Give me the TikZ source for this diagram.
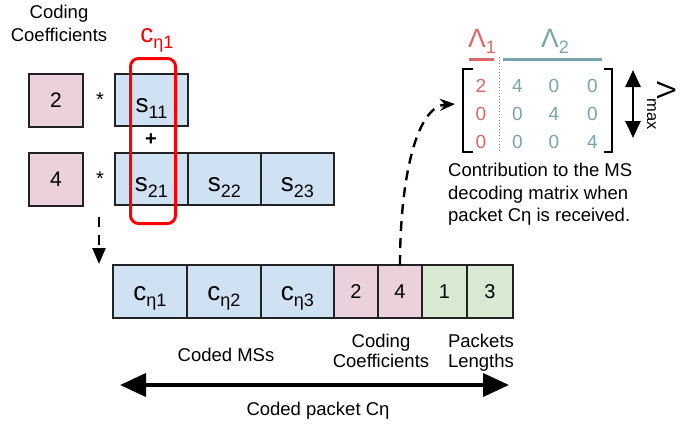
\documentclass[tikz,border=0pt]{standalone}
\usepackage{fontspec}
\setmainfont{Liberation Sans}
\usetikzlibrary{arrows.meta,calc}
\definecolor{pinkf}{HTML}{EAD1DC}
\definecolor{bluef}{HTML}{CFE2F3}
\definecolor{greenf}{HTML}{D9EAD3}
\definecolor{mred}{HTML}{E06666}
\definecolor{mteal}{HTML}{76A5AF}
\definecolor{edgec}{HTML}{222222}
\definecolor{brightred}{HTML}{FF0000}
\newcommand{\mysub}[2]{{\fontsize{26}{26}\selectfont #1}\raisebox{-6pt}{\fontsize{18}{18}\selectfont #2}}
\begin{document}
\begin{tikzpicture}[x=1pt,y=-1pt,
  cell/.style={draw=edgec, line width=1.2pt, inner sep=0pt, outer sep=0pt, anchor=north west},
  coef/.style={cell, fill=pinkf, font=\fontsize{21}{21}\selectfont},
  msg/.style={cell, fill=bluef, text height=26pt, text depth=2pt},
  cmsg/.style={cell, fill=bluef, text height=23pt, text depth=6pt},
  coefb/.style={cell, fill=pinkf, font=\fontsize{20}{20}\selectfont},
  lenb/.style={cell, fill=greenf, font=\fontsize{20}{20}\selectfont},
  lbl/.style={font=\fontsize{18.5}{22}\selectfont, align=center, inner sep=0pt},
  ment/.style={font=\fontsize{19}{19}\selectfont, anchor=base, inner sep=0pt},
  dasharrow/.style={line width=2.6pt, dash pattern=on 10pt off 8pt},
]
\useasboundingbox (0,0) rectangle (683,424);

% top-left label
\node[lbl, anchor=north, font=\fontsize{18.5}{23}\selectfont] (cctop) at (59,5) {Coding\\Coefficients};

% coding coefficient squares
\node[coef, minimum width=54pt, minimum height=53pt] (k1) at (29,74) {2};
\node[coef, minimum width=54pt, minimum height=53pt] (k2) at (29,153) {4};
\node[font=\fontsize{20}{20}\selectfont] (star1) at (100,100) {*};
\node[font=\fontsize{20}{20}\selectfont] (star2) at (100,179) {*};

% source message cells
\node[msg, minimum width=73pt, minimum height=52pt] (s11) at (115,74) {\mysub{s}{11}};
\node[msg, minimum width=73pt, minimum height=52pt] (s21) at (115,153) {\mysub{s}{21}};
\node[msg, minimum width=73pt, minimum height=52pt] (s22) at (188,153) {\mysub{s}{22}};
\node[msg, minimum width=73pt, minimum height=52pt] (s23) at (261,153) {\mysub{s}{23}};
\node[font=\bfseries\fontsize{20}{20}\selectfont] (plus) at (151,140) {+};

% red group
\node[draw=brightred, line width=3pt, rounded corners=8pt, minimum width=45pt, minimum height=165pt, anchor=north west, inner sep=0pt] (grp) at (129,57) {};
\node[anchor=base, text=brightred, inner sep=0pt] (grplbl) at (157,42) {\mysub{c}{η1}};

% coded packet row
\node[cmsg, minimum width=74pt, minimum height=53pt] (c1) at (113,265) {\mysub{c}{η1}};
\node[cmsg, minimum width=74pt, minimum height=53pt] (c2) at (187,265) {\mysub{c}{η2}};
\node[cmsg, minimum width=73pt, minimum height=53pt] (c3) at (261,265) {\mysub{c}{η3}};
\node[coefb, minimum width=44pt, minimum height=53pt] (p2) at (334,265) {2};
\node[coefb, minimum width=44pt, minimum height=53pt] (p4) at (378,265) {4};
\node[lenb, minimum width=45pt, minimum height=53pt] (g1) at (422,265) {1};
\node[lenb, minimum width=46pt, minimum height=53pt] (g3) at (467,265) {3};

% down arrow
\coordinate (dA) at (99,217);
\coordinate (dB) at (99,264);
\draw[dasharrow, -{Triangle[length=16pt,width=13pt]}] (dA) -- (dB);

% labels under row
\node[lbl, anchor=base] (cms) at (226,361) {Coded MSs};
\node[lbl, anchor=north, font=\fontsize{18.5}{20}\selectfont] (ccb) at (381,334) {Coding\\Coefficients};
\node[lbl, anchor=north, font=\fontsize{18.5}{20}\selectfont] (plb) at (481,334) {Packets\\Lengths};

% double arrow
\coordinate (hL) at (120,385);
\coordinate (hR) at (509,385);
\draw[line width=4pt, {Triangle[length=26pt,width=23pt]}-{Triangle[length=26pt,width=23pt]}] (hL) -- (hR);
\node[lbl, anchor=base] (cpk) at (318,415) {Coded packet Cη};

% matrix
\node[ment, text=mred] (m11) at (481,92) {2};
\node[ment, text=mteal] (m12) at (517.5,92) {4};
\node[ment, text=mteal] (m13) at (554,92) {0};
\node[ment, text=mteal] (m14) at (592.5,92) {0};
\node[ment, text=mred] (m21) at (481,120) {0};
\node[ment, text=mteal] (m22) at (517.5,120) {0};
\node[ment, text=mteal] (m23) at (554,120) {4};
\node[ment, text=mteal] (m24) at (592.5,120) {0};
\node[ment, text=mred] (m31) at (481,148) {0};
\node[ment, text=mteal] (m32) at (517.5,148) {0};
\node[ment, text=mteal] (m33) at (554,148) {0};
\node[ment, text=mteal] (m34) at (592.5,148) {4};
\draw[line width=2.6pt, line cap=rect] (472,69) -- (463,69) -- (463,152) -- (472,152);
\draw[line width=2.6pt, line cap=rect] (605,69) -- (612,69) -- (612,152) -- (605,152);
\draw[gray, line width=1pt, dotted] (499,57) -- (499,153);
\draw[mred, line width=3pt] (469,59) -- (494,59);
\draw[mteal, line width=3pt] (503,59) -- (602,59);
\node[anchor=base west, inner sep=0pt, text=mred] (L1) at (468,47) {{\fontsize{26.5}{26.5}\selectfont Λ}\raisebox{-6pt}{\fontsize{18}{18}\selectfont 1}};
\node[anchor=base west, inner sep=0pt, text=mteal] (L2) at (541,47) {{\fontsize{26.5}{26.5}\selectfont Λ}\raisebox{-6pt}{\fontsize{18}{18}\selectfont 2}};

% Lambda max
\coordinate (vT) at (633,70);
\coordinate (vB) at (633,138);
\draw[line width=2.6pt, {Triangle[length=17pt,width=15pt]}-{Triangle[length=17pt,width=15pt]}] (vT) -- (vB);
\node[anchor=base west, rotate=-90, inner sep=0pt] (Lmax) at (657,81) {{\fontsize{26.5}{26.5}\selectfont Λ}\raisebox{-10pt}{\fontsize{16.5}{16.5}\selectfont max}};

% contribution text
\node[lbl, align=left, anchor=north west, font=\fontsize{18.5}{22.5}\selectfont] (contrib) at (448,163) {Contribution to the MS\\decoding matrix when\\packet Cη is received.};

% curved dashed arrow
\draw[line width=2.4pt, dash pattern=on 10pt off 7pt, -{Stealth[length=15pt,width=12pt]}] (p4.north) .. controls (400,180) and (416,106) .. (455,104);
\end{tikzpicture}
\end{document}
